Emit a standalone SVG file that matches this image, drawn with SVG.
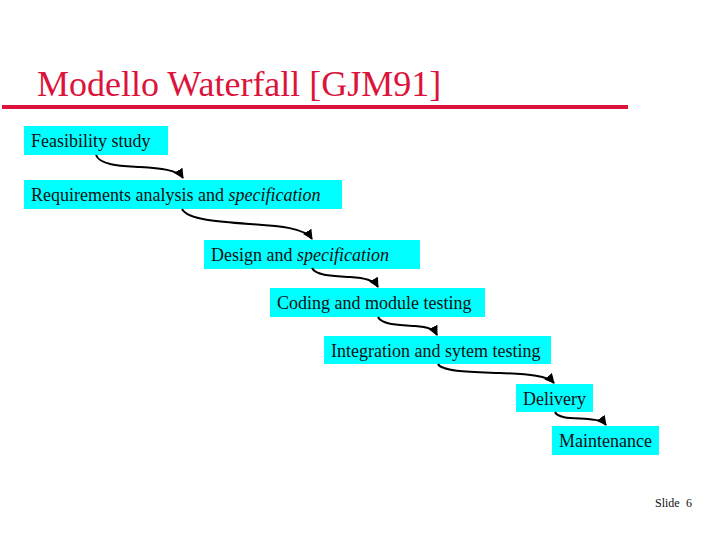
<svg xmlns="http://www.w3.org/2000/svg" width="717" height="538" viewBox="0 0 717 538">
<style>
.box{fill:#00FFFF}
.t{font-family:"Liberation Serif","Times New Roman",serif;font-size:18px;fill:#111}
.title{font-family:"Liberation Serif","Times New Roman",serif;font-size:36px;fill:#DC143C}
.c{fill:none;stroke:#000;stroke-width:2;marker-end:url(#ah)}
.f{font-family:"Liberation Serif","Times New Roman",serif;font-size:12px;fill:#111}
</style>
<defs>
<marker id="ah" viewBox="0 0 10 10" refX="9" refY="5" markerWidth="5" markerHeight="5" orient="auto" markerUnits="strokeWidth">
<path d="M0,0 L10,5 L0,10 z" fill="#000"/>
</marker>
</defs>
<rect width="717" height="538" fill="#fff"/>
<g id="title">
<text class="title" x="37" y="96">Modello Waterfall [GJM91]</text>
<rect x="2" y="105" width="626" height="4" fill="#DC143C"/>
</g>
<g id="n1"><rect class="box" x="24" y="126" width="144" height="29"/><text class="t" x="31" y="147">Feasibility study</text></g>
<g id="n2"><rect class="box" x="24" y="180" width="318" height="29"/><text class="t" x="31" y="201">Requirements analysis and <tspan font-style="italic">specification</tspan></text></g>
<g id="n3"><rect class="box" x="204" y="240" width="216" height="29"/><text class="t" x="211" y="261">Design and <tspan font-style="italic">specification</tspan></text></g>
<g id="n4"><rect class="box" x="270" y="288" width="215" height="29"/><text class="t" x="277" y="309">Coding and module testing</text></g>
<g id="n5"><rect class="box" x="324" y="336" width="227" height="28"/><text class="t" x="331" y="357">Integration and sytem testing</text></g>
<g id="n6"><rect class="box" x="516" y="384" width="77" height="28"/><text class="t" x="523" y="405">Delivery</text></g>
<g id="n7"><rect class="box" x="552" y="426" width="107" height="29"/><text class="t" x="559" y="447">Maintenance</text></g>
<g id="connectors">
<path class="c" d="M96,155 C100,166 125,166 140,167 C160,168 178,170 183,178"/>
<path class="c" d="M182,209 C188,220 220,222 250,224 C280,226 305,228 312,239"/>
<path class="c" d="M312,268 C316,276 335,276 350,277 C365,278 374,280 378,287"/>
<path class="c" d="M378,317 C382,325 400,325 415,326 C428,327 434,329 437,335"/>
<path class="c" d="M438,364 C442,372 475,372 500,373 C530,374 548,376 554,383"/>
<path class="c" d="M555,412 C558,419 575,418 588,419 C598,420 603,421 606,425"/>
</g>
<g id="footer"><text class="f" x="655" y="507">Slide</text><text class="f" x="686" y="507">6</text></g>
</svg>
